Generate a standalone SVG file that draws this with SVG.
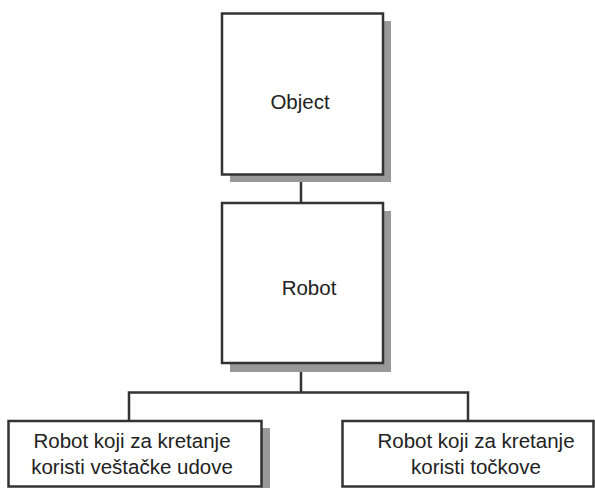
<svg xmlns="http://www.w3.org/2000/svg" width="595" height="488" viewBox="0 0 595 488">
  <style>
    .shadow { fill: #999999; }
    .box { fill: #ffffff; stroke: #333333; stroke-width: 2.5; }
    .label { font-family: "Liberation Sans", Arial, sans-serif; font-size: 20.5px; fill: #222222; text-anchor: middle; }
    .wire { fill: none; stroke: #333333; stroke-width: 2.5; }
  </style>
  <rect width="595" height="488" fill="#ffffff"/>

  <g id="connectors">
    <line class="wire" x1="301" y1="181" x2="301" y2="203"/>
    <line class="wire" x1="301" y1="371" x2="301" y2="392"/>
    <polyline class="wire" points="129,421 129,392.5 468,392.5 468,421"/>
  </g>

  <g id="object">
    <rect class="shadow" x="230" y="21" width="161" height="161"/>
    <rect class="box" x="222" y="13.5" width="161" height="161"/>
    <text class="label" x="300" y="109">Object</text>
  </g>

  <g id="robot">
    <rect class="shadow" x="230" y="211" width="161" height="161"/>
    <rect class="box" x="222" y="203" width="161" height="160"/>
    <text class="label" x="309" y="295">Robot</text>
  </g>

  <g id="robot-legs">
    <rect class="shadow" x="262" y="428" width="8" height="60"/>
    <rect class="box" x="8.5" y="421" width="253" height="65.5"/>
    <text class="label" x="132" y="447.5">Robot koji za kretanje</text>
    <text class="label" x="132" y="474">koristi veštačke udove</text>
  </g>

  <g id="robot-wheels">
    <rect class="box" x="342.5" y="421" width="251" height="65.5"/>
    <text class="label" x="476" y="447.5">Robot koji za kretanje</text>
    <text class="label" x="476" y="474">koristi točkove</text>
  </g>
</svg>
